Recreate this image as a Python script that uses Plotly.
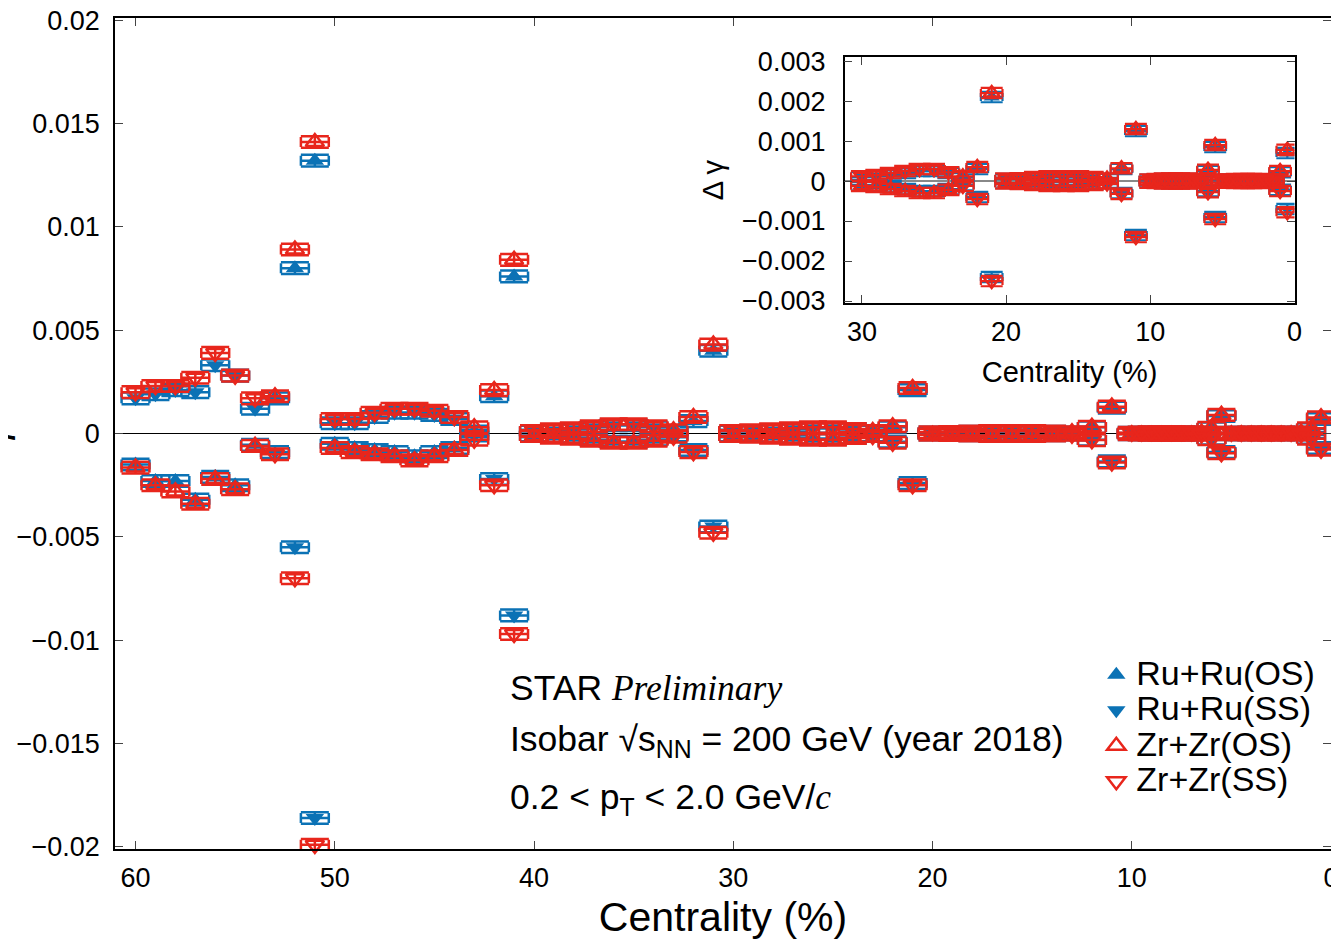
import plotly.graph_objects as go

# ---------------- data ----------------
centrality = [60, 59, 58, 57, 56, 55, 54, 53, 52, 51,
              50, 49, 48, 47, 46, 45, 44, 43, 42, 41,
              40, 39, 38, 37, 36, 35, 34, 33, 32, 31,
              30, 29, 28, 27, 26, 25, 24, 23, 22, 21,
              20, 19, 18, 17, 16, 15, 14, 13, 12, 11,
              10, 9.5, 9, 8.5, 8, 7.5, 7, 6.5, 6, 5.5,
              5, 4.5, 4, 3.5, 3, 2.5, 2, 1.5, 1, 0.5]

ru_os = [-0.0015, -0.0023, -0.0023, -0.0032, -0.0021, -0.0025, -0.00055, 0.0017, 0.0080, 0.0132,
         -0.0005, -0.0007, -0.0008, -0.0009, -0.0011, -0.0009, -0.0007, 0.0001, 0.0018, 0.0076,
         -0.0001, -0.00015, -0.0002, -0.0003, -0.0004, -0.0004, -0.0003, 0.0001, 0.0006, 0.0040,
         -0.0001, -0.00012, -0.00015, -0.0002, -0.00025, -0.00025, -0.0002, 0.0001, 0.0003, 0.0021,
         -0.00005, -0.00006, -0.00008, -0.0001, -0.0001, -0.0001, -0.00008, 0.00005, 0.0003, 0.00125,
         -0.00003, -0.00004, -0.00005, -0.00005, -0.00005, -0.00005, -0.00004, 0.00003, 0.00025, 0.00085,
         -0.00003, -0.00003, -0.00004, -0.00004, -0.00004, -0.00004, -0.00003, 0.00003, 0.00022, 0.0007]

zr_os = [-0.00165, -0.0025, -0.0028, -0.0034, -0.0022, -0.0027, -0.0006, 0.0018, 0.0089, 0.0141,
         -0.0007, -0.0009, -0.0010, -0.0011, -0.0013, -0.0011, -0.0008, 0.0003, 0.0021, 0.0084,
         -0.00012, -0.0002, -0.00025, -0.00035, -0.00045, -0.00045, -0.00035, 0.00015, 0.0008, 0.0043,
         -0.00012, -0.00015, -0.0002, -0.00025, -0.0003, -0.0003, -0.00022, 0.00012, 0.00035, 0.0022,
         -0.00006, -0.00007, -0.0001, -0.00012, -0.00012, -0.00012, -0.0001, 0.00006, 0.00032, 0.0013,
         -0.00004, -0.00005, -0.00006, -0.00006, -0.00006, -0.00006, -0.00005, 0.00004, 0.00028, 0.0009,
         -0.00004, -0.00004, -0.00005, -0.00005, -0.00005, -0.00005, -0.00004, 0.00004, 0.00025, 0.00078]

ru_ss = [0.0017, 0.0019, 0.0021, 0.0020, 0.0033, 0.0028, 0.0012, -0.0009, -0.0055, -0.0186,
         0.0005, 0.0005, 0.0008, 0.0010, 0.0010, 0.0009, 0.0007, -0.0001, -0.0022, -0.0088,
         0.0001, 0.00015, 0.0002, 0.0003, 0.0004, 0.0004, 0.0003, -0.0001, -0.0008, -0.0045,
         0.0001, 0.00012, 0.00015, 0.0002, 0.00025, 0.00025, 0.0002, -0.0001, -0.0004, -0.0024,
         0.00005, 0.00006, 0.00008, 0.0001, 0.0001, 0.0001, 0.00008, -0.00005, -0.0003, -0.00135,
         0.00003, 0.00004, 0.00005, 0.00005, 0.00005, 0.00005, 0.00004, -0.00003, -0.00025, -0.0009,
         0.00003, 0.00003, 0.00004, 0.00004, 0.00004, 0.00004, 0.00003, -0.00003, -0.00022, -0.0007]

zr_ss = [0.0020, 0.0023, 0.0023, 0.0027, 0.0039, 0.0028, 0.0017, -0.0010, -0.0070, -0.0199,
         0.0007, 0.0007, 0.0010, 0.0012, 0.0012, 0.0011, 0.0008, -0.0003, -0.0025, -0.0097,
         0.00012, 0.0002, 0.00025, 0.00035, 0.00045, 0.00045, 0.00035, -0.00015, -0.0009, -0.0048,
         0.00012, 0.00015, 0.0002, 0.00025, 0.0003, 0.0003, 0.00022, -0.00012, -0.00045, -0.0025,
         0.00006, 0.00007, 0.0001, 0.00012, 0.00012, 0.00012, 0.0001, -0.00006, -0.00032, -0.0014,
         0.00004, 0.00005, 0.00006, 0.00006, 0.00006, 0.00006, 0.00005, -0.00004, -0.00028, -0.00095,
         0.00004, 0.00004, 0.00005, 0.00005, 0.00005, 0.00005, 0.00004, -0.00004, -0.00025, -0.00078]

series_names = ["Ru+Ru(OS)", "Ru+Ru(SS)", "Zr+Zr(OS)", "Zr+Zr(SS)"]

main_x_ticks = [60, 50, 40, 30, 20, 10, 0]
main_y_ticks = [0.02, 0.015, 0.01, 0.005, 0, -0.005, -0.01, -0.015, -0.02]
main_y_text = ["0.02", "0.015", "0.01", "0.005", "0", "\u22120.005", "\u22120.01", "\u22120.015", "\u22120.02"]
inset_x_ticks = [30, 20, 10, 0]
inset_y_ticks = [0.003, 0.002, 0.001, 0, -0.001, -0.002, -0.003]
inset_y_text = ["0.003", "0.002", "0.001", "0", "\u22120.001", "\u22120.002", "\u22120.003"]

# ---------------- style ----------------
BLUE = "#0b72b5"
RED = "#e8261c"
FONT = "Liberation Sans, Arial, sans-serif"

styles = [
    (ru_os, "triangle-up", BLUE, 0),
    (ru_ss, "triangle-down", BLUE, 0),
    (zr_os, "triangle-up-open", RED, 2.5),
    (zr_ss, "triangle-down-open", RED, 2.5),
]

fig = go.Figure()

# main panel
for name, (vals, sym, col, lw) in zip(series_names, styles):
    fig.add_trace(go.Scatter(
        x=centrality, y=vals, mode="markers",
        name="<span style='font-size:34px'>" + name + "</span>",
        marker=dict(symbol=sym, size=16, color=col, line=dict(color=col, width=lw)),
        error_x=dict(type="constant", value=0.7, color=col, thickness=2.5, width=5),
        error_y=dict(type="constant", value=0.00028, color=col, thickness=2.5, width=14),
        cliponaxis=False, xaxis="x", yaxis="y", showlegend=True,
    ))

# inset panel
for name, (vals, sym, col, lw) in zip(series_names, styles):
    fig.add_trace(go.Scatter(
        x=centrality, y=vals, mode="markers", name=name,
        marker=dict(symbol=sym, size=14, color=col, line=dict(color=col, width=lw)),
        error_x=dict(type="constant", value=0.75, color=col, thickness=2.2, width=4),
        error_y=dict(type="constant", value=0.00013, color=col, thickness=2.2, width=11),
        cliponaxis=True, xaxis="x2", yaxis="y2", showlegend=False,
    ))

axis_common = dict(showline=True, linecolor="black", linewidth=1.5, mirror="ticks",
                   ticks="inside", ticklen=8, tickwidth=1, tickcolor="#444",
                   showgrid=False, automargin=False, ticklabeloverflow="allow",
                   tickfont=dict(family=FONT, size=27, color="black"))

# the page body adds an 8px offset; size the figure so the plot frame lands
# at x 115..1331, y 18..849 in the window
fig.update_layout(
    width=1331, height=938,
    paper_bgcolor="white", plot_bgcolor="white",
    margin=dict(l=107, r=8, t=10, b=97),
    font=dict(family=FONT, color="black"),
    xaxis=dict(domain=[0, 1], range=[61.03, 0], tickvals=main_x_ticks, zeroline=False,
               ticklabelstandoff=4,
               title=dict(text="Centrality (%)", font=dict(family=FONT, size=41), standoff=10),
               anchor="y", **axis_common),
    yaxis=dict(domain=[0, 1], range=[-0.0201, 0.0201], tickvals=main_y_ticks, ticktext=main_y_text,
               zeroline=True, zerolinecolor="black", zerolinewidth=1.2, ticklabelstandoff=8,
               anchor="x", **axis_common),
    xaxis2=dict(domain=[0.600, 0.970], range=[31.2, 0], tickvals=inset_x_ticks, zeroline=False,
                ticklabelstandoff=4,
                title=dict(text="Centrality (%)", font=dict(family=FONT, size=29), standoff=16),
                anchor="y2", **axis_common),
    yaxis2=dict(domain=[0.657, 0.953], range=[-0.00305, 0.0031], tickvals=inset_y_ticks,
                ticktext=inset_y_text, zeroline=True, zerolinecolor="#888", zerolinewidth=1.5,
                ticklabelstandoff=12,
                title=dict(text="\u0394 \u03b3", font=dict(family=FONT, size=29), standoff=10),
                anchor="x2", **axis_common),
    legend=dict(x=0.807, y=0.237, xanchor="left", yanchor="top",
                font=dict(family=FONT, size=25, color="black"),
                bgcolor="rgba(0,0,0,0)", borderwidth=0, tracegroupgap=0),
    showlegend=True,
)

# main y-axis title: mostly outside the left edge of the page, as in the reference
fig.add_annotation(xref="paper", yref="paper", x=-0.0807, y=0.481, xanchor="right", yanchor="middle",
                   textangle=-90, showarrow=False,
                   font=dict(family=FONT, size=40, color="black"), text="\u0394\u03b3")

ann_font = dict(family=FONT, size=35.5, color="black")
fig.add_annotation(xref="paper", yref="paper", x=0.323, y=0.1937, xanchor="left", yanchor="middle",
                   showarrow=False, font=ann_font,
                   text="STAR <span style='font-family:Liberation Serif'><i>Preliminary</i></span>")
fig.add_annotation(xref="paper", yref="paper", x=0.323, y=0.130, xanchor="left", yanchor="middle",
                   showarrow=False, font=ann_font,
                   text="Isobar \u221as<sub>NN</sub> = 200 GeV (year 2018)")
fig.add_annotation(xref="paper", yref="paper", x=0.323, y=0.060, xanchor="left", yanchor="middle",
                   showarrow=False, font=ann_font,
                   text="0.2 &lt; p<sub>T</sub> &lt; 2.0 GeV/<span style='font-family:Liberation Serif'><i>c</i></span>")

fig.write_html("out.html")
